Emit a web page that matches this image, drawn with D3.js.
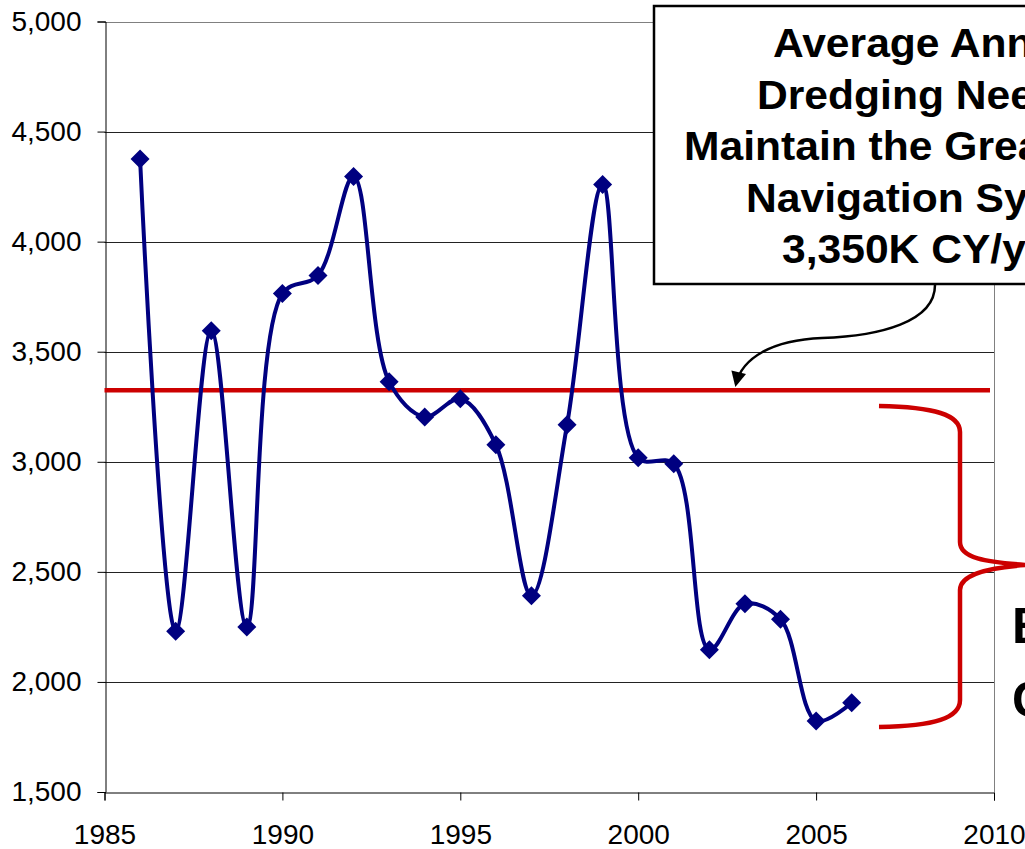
<!DOCTYPE html>
<html>
<head>
<meta charset="utf-8">
<script src="https://cdn.jsdelivr.net/npm/d3@7"></script>
<style>
  html, body { margin: 0; padding: 0; background: #fff; }
  svg { display: block; }
  text { font-family: "Liberation Sans", Arial, sans-serif; }
</style>
</head>
<body>
<svg id="chart" width="1025" height="849"></svg>
<script>
const years = [1986, 1987, 1988, 1989, 1990, 1991, 1992, 1993, 1994, 1995, 1996,
               1997, 1998, 1999, 2000, 2001, 2002, 2003, 2004, 2005, 2006];
const dredged = [4375, 2230, 3595, 2250, 3764, 3846, 4296, 3364, 3204, 3286, 3077,
                 2391, 3168, 4260, 3018, 2991, 2146, 2355, 2285, 1823, 1905];
const avgNeed = 3325;
const xTicks = [1985, 1990, 1995, 2000, 2005, 2010];
const yTicks = [1500, 2000, 2500, 3000, 3500, 4000, 4500, 5000];
const boxLines = ["Average Annual", "Dredging Needed to", "Maintain the Great Lakes", "Navigation System", "3,350K CY/yr"];
const braceLines = ["Backlog", "Created"];

const svg = d3.select("#chart");
const x = d3.scaleLinear().domain([1985, 2010]).range([104.5, 994]);
const y = d3.scaleLinear().domain([1500, 5000]).range([792, 21.5]);

// gridlines
svg.append("g").selectAll("line").data(yTicks.slice(1)).join("line")
  .attr("x1", x(1985)).attr("x2", x(2010))
  .attr("y1", d => Math.round(y(d)) + 0.5).attr("y2", d => Math.round(y(d)) + 0.5)
  .attr("stroke", d => d === 5000 ? "#808080" : "#222").attr("stroke-width", 1);

// right plot border
svg.append("line")
  .attr("x1", Math.round(x(2010)) + 0.5).attr("x2", Math.round(x(2010)) + 0.5)
  .attr("y1", y(5000)).attr("y2", y(1500))
  .attr("stroke", "#808080").attr("stroke-width", 1);

// y axis
const yAxis = svg.append("g").attr("transform", `translate(${Math.round(x(1985)) + 0.5},0)`)
  .call(d3.axisLeft(y).tickValues(yTicks).tickFormat(d3.format(",")).tickSize(8).tickPadding(16));
yAxis.selectAll("text").attr("font-size", 28).attr("font-family", "Liberation Sans, Arial, sans-serif").attr("fill", "#000");
yAxis.selectAll("line, path").attr("stroke", "#000");

// x axis
const xAxis = svg.append("g").attr("transform", `translate(0,${Math.round(y(1500)) + 0.5})`)
  .call(d3.axisBottom(x).tickValues(xTicks).tickFormat(d3.format("d")).tickSize(8));
xAxis.selectAll("text").attr("font-size", 28).attr("font-family", "Liberation Sans, Arial, sans-serif")
  .attr("fill", "#000").attr("y", 51).attr("dy", 0);
xAxis.selectAll("line, path").attr("stroke", "#000");

// average need line
svg.append("line")
  .attr("x1", x(1985)).attr("x2", x(2010) - 4)
  .attr("y1", y(avgNeed)).attr("y2", y(avgNeed))
  .attr("stroke", "#CC0000").attr("stroke-width", 4.5);

// data line
const data = years.map((yr, i) => ({ yr, v: dredged[i] }));
const line = d3.line().x(d => x(d.yr)).y(d => y(d.v)).curve(d3.curveCatmullRom.alpha(0.5));
svg.append("path").datum(data).attr("d", line)
  .attr("fill", "none").attr("stroke", "#000080").attr("stroke-width", 4)
  .attr("stroke-linejoin", "round");

// markers
const r = 9.5;
svg.append("g").selectAll("path").data(data).join("path")
  .attr("d", d => { const cx = x(d.yr), cy = y(d.v);
    return `M${cx},${cy - r}L${cx + r},${cy}L${cx},${cy + r}L${cx - r},${cy}Z`; })
  .attr("fill", "#000080");

// callout box
svg.append("rect").attr("x", 654).attr("y", 6).attr("width", 420).attr("height", 278)
  .attr("fill", "#fff").attr("stroke", "#000").attr("stroke-width", 2.5);
const boxX = [773, 757, 684, 746, 782];
const boxY = [57, 108.5, 160, 211.5, 263];
svg.append("g").selectAll("text").data(boxLines).join("text")
  .attr("transform", (d, i) => `translate(${boxX[i]},${boxY[i]}) scale(1.065,1)`)
  .attr("font-size", 40).attr("font-weight", "bold").attr("fill", "#000")
  .text(d => d);

// arrow
const defs = svg.append("defs");
defs.append("marker").attr("id", "arrowhead").attr("viewBox", "0 0 10 10")
  .attr("refX", 8).attr("refY", 5).attr("markerWidth", 6.5).attr("markerHeight", 6)
  .attr("markerUnits", "strokeWidth").attr("orient", "auto")
  .append("path").attr("d", "M0,0L10,5L0,10Z").attr("fill", "#000");
svg.append("path")
  .attr("d", "M935,285 C935,322 880,336 822,338 C772,340 742,358 736,384")
  .attr("fill", "none").attr("stroke", "#000").attr("stroke-width", 2.5)
  .attr("marker-end", "url(#arrowhead)");

// brace
svg.append("path")
  .attr("d", "M879,406 C935,407 960,415 960,432 L960,542 C960,558 985,562 1026,565 C985,568 960,575 960,590 L960,700 C960,718 935,726 879,727")
  .attr("fill", "none").attr("stroke", "#CC0000").attr("stroke-width", 4.5);

svg.append("g").selectAll("text").data(braceLines).join("text")
  .attr("x", 1012).attr("y", (d, i) => [643, 717][i])
  .attr("font-size", 50).attr("font-weight", "bold").attr("fill", "#000")
  .text(d => d);
</script>
</body>
</html>
